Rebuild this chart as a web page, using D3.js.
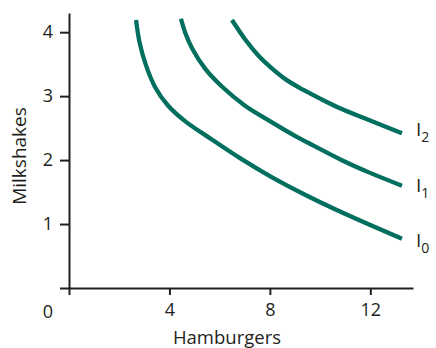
<!DOCTYPE html>
<html><head><meta charset="utf-8">
<script src="https://cdn.jsdelivr.net/npm/d3@7"></script>
<style>body{margin:0;background:#fff}svg{display:block}text{font-family:"Open Sans",sans-serif;fill:#231f20}</style>
</head><body><svg id="c" width="436" height="348"></svg>
<script>
const xTicks = [0, 4, 8, 12];
const yTicks = [0, 1, 2, 3, 4];
const curveNames = ["0", "1", "2"];
const I0 = [[2.67,4.19],[2.81,3.84],[3.05,3.50],[3.43,3.14],[3.95,2.85],[4.62,2.61],[5.62,2.34],[6.81,2.03],[8.00,1.75],[9.44,1.45],[10.99,1.16],[13.26,0.77]];
const I1 = [[4.46,4.21],[4.64,3.98],[4.90,3.75],[5.42,3.43],[6.09,3.15],[7.01,2.85],[8.00,2.61],[9.00,2.38],[9.72,2.23],[10.91,1.99],[11.99,1.80],[13.26,1.60]];
const I2 = [[6.49,4.19],[7.01,3.89],[7.53,3.64],[8.00,3.46],[8.60,3.27],[9.32,3.10],[10.00,2.96],[10.79,2.81],[11.99,2.62],[13.26,2.42]];
const curves = [I0, I1, I2];

const svg = d3.select("#c");
const x = d3.scaleLinear().domain([0, 13.7]).range([69, 413]);
const y = d3.scaleLinear().domain([0, 4.3]).range([288, 13]);
const ink = "#231f20", teal = "#006f5e";

const gx = svg.append("g").attr("transform", `translate(0,${y(0)})`)
  .call(d3.axisBottom(x).tickValues(xTicks).tickSize(7).tickSizeOuter(0).tickPadding(8)
    .tickFormat(d => d === 0 ? "" : d));
const gy = svg.append("g").attr("transform", `translate(${x(0)},0)`)
  .call(d3.axisLeft(y).tickValues(yTicks).tickSize(9).tickSizeOuter(0).tickPadding(7)
    .tickFormat(d => d === 0 ? "" : d));
[gx, gy].forEach(g => {
  g.select(".domain").attr("stroke", ink).attr("stroke-width", 2);
  g.selectAll(".tick line").attr("stroke", ink).attr("stroke-width", 2);
  g.selectAll(".tick text").style("font-size", "18px").attr("fill", ink).style("font-family", '"Open Sans",sans-serif');
});
svg.append("text").attr("x", 48).attr("y", 318).attr("text-anchor", "middle").style("font-size", "18px").text("0");

svg.append("text").attr("x", 227).attr("y", 343.5).attr("text-anchor", "middle").style("font-size", "18.5px").text("Hamburgers");
svg.append("text").attr("transform", "translate(26,156) rotate(-90)").attr("text-anchor", "middle").style("font-size", "19px").text("Milkshakes");

const line = d3.line().x(d => x(d[0])).y(d => y(d[1])).curve(d3.curveCatmullRom.alpha(0.5));
svg.selectAll("path.ic").data(curves).join("path").attr("class", "ic")
  .attr("d", line).attr("fill", "none").attr("stroke", teal).attr("stroke-width", 4.3);

const labelDy = [8, 6, 3];
curves.forEach((c, i) => {
  const last = c[c.length - 1];
  const t = svg.append("text").attr("x", x(last[0]) + 14).attr("y", y(last[1]) + labelDy[i]).style("font-size", "19px");
  t.append("tspan").text("I");
  t.append("tspan").attr("dy", 6).style("font-size", "14px").text(curveNames[i]);
});
</script></body></html>
